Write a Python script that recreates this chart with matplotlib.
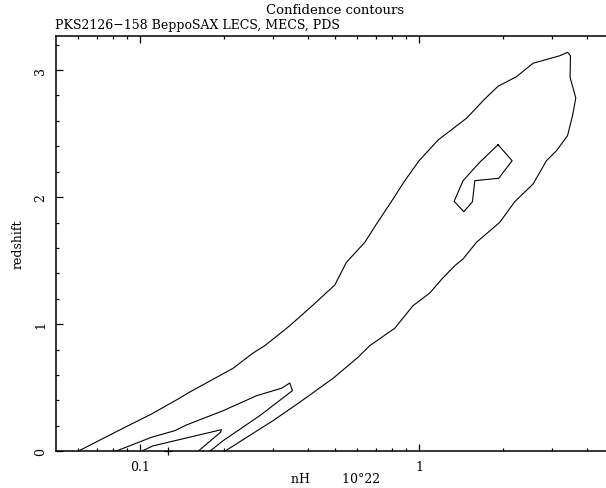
import matplotlib
matplotlib.use('Agg')
import matplotlib.pyplot as plt

plt.rcParams['font.family'] = 'DejaVu Serif'

# outer contour (open at z = 0)
outer_nh = [0.0601, 0.0871, 0.1101, 0.1371, 0.1490, 0.2158, 0.2544, 0.2803, 0.3444, 0.4174,
            0.4991, 0.5495, 0.6393, 0.7039, 0.8070, 0.8889, 1.000, 1.1695, 1.478, 1.719,
            1.918, 2.232, 2.559, 3.190, 3.400, 3.484, 3.472, 3.640, 3.543, 3.400,
            3.104, 2.858, 2.559, 2.201, 1.945, 1.605, 1.437, 1.342, 1.213, 1.092,
            0.9517, 0.8184, 0.6659, 0.6047, 0.4921, 0.3740, 0.3001, 0.2015]
outer_z = [0.0, 0.181, 0.293, 0.411, 0.459, 0.653, 0.773, 0.831, 0.988, 1.151,
           1.308, 1.487, 1.644, 1.788, 1.985, 2.129, 2.286, 2.449, 2.620, 2.772,
           2.872, 2.947, 3.053, 3.112, 3.139, 3.112, 2.943, 2.780, 2.640, 2.483,
           2.365, 2.286, 2.103, 1.964, 1.802, 1.644, 1.513, 1.460, 1.361, 1.245,
           1.146, 0.968, 0.831, 0.740, 0.574, 0.386, 0.241, 0.0]

# small closed contour near the high-z minimum
island_nh = [1.918, 2.153, 1.929, 1.583, 1.553, 1.446, 1.335, 1.437, 1.649, 1.918]
island_z = [2.412, 2.286, 2.148, 2.129, 1.964, 1.885, 1.967, 2.129, 2.274, 2.412]

# middle contour (low z)
mid_nh = [0.0820, 0.1101, 0.1334, 0.1470, 0.1987, 0.2617, 0.3217, 0.3444, 0.3521,
          0.2689, 0.1987, 0.1781]
mid_z = [0.0, 0.110, 0.162, 0.207, 0.319, 0.437, 0.496, 0.537, 0.477,
         0.280, 0.083, 0.0]

# innermost contour (low z)
inner_nh = [0.1014, 0.1113, 0.1961, 0.1945, 0.1617]
inner_z = [0.0, 0.042, 0.170, 0.149, 0.0]

best_nh = 0.1257
best_z = 0.0

fig = plt.figure(figsize=(6.06, 4.89), dpi=100)
ax = fig.add_axes([0.0919, 0.0751, 0.9218, 0.8499])

for xs, ys in [(outer_nh, outer_z), (island_nh, island_z), (mid_nh, mid_z), (inner_nh, inner_z)]:
    ax.plot(xs, ys, color='black', lw=0.8)
ax.plot([best_nh], [best_z], marker='+', color='black', ms=6, mew=0.9, clip_on=False)

ax.set_xscale('log')
ax.set_xlim(0.05, 5)
ax.set_ylim(0, 3.27)

ax.set_xticks([0.1, 1])
ax.set_xticklabels(['0.1', '1'])
ax.set_xticks([0.06, 0.07, 0.08, 0.09, 0.2, 0.3, 0.4, 0.5, 0.6, 0.7, 0.8, 0.9, 2, 3, 4], minor=True)
ax.xaxis.set_minor_formatter(matplotlib.ticker.NullFormatter())
ax.set_yticks([0, 1, 2, 3])
ax.set_yticks([0.2, 0.4, 0.6, 0.8, 1.2, 1.4, 1.6, 1.8, 2.2, 2.4, 2.6, 2.8, 3.2], minor=True)

ax.tick_params(which='both', direction='in', top=True, right=False, width=0.9, labelsize=9)
ax.tick_params(which='major', length=5)
ax.tick_params(which='minor', length=2.5)
ax.tick_params(axis='x', pad=6)
ax.tick_params(axis='y', pad=6)
for lab in ax.get_yticklabels():
    lab.set_rotation(90)
    lab.set_va('center')

ax.spines['right'].set_visible(False)
for s in ['left', 'bottom', 'top']:
    ax.spines[s].set_linewidth(1.1)

fig.text(335 / 606, 1 - 10 / 489, 'Confidence contours', ha='center', va='center', fontsize=9.5)
fig.text(55 / 606, 1 - 26 / 489, 'PKS2126\u2212158 BeppoSAX LECS, MECS, PDS', ha='left', va='center', fontsize=9)
fig.text(336 / 606, 1 - 480 / 489, 'nH        10\u00b022', ha='center', va='center', fontsize=9)
fig.text(18 / 606, 1 - 244.5 / 489, 'redshift', ha='center', va='center', rotation=90, fontsize=9)

fig.savefig('out.png', dpi=100)
